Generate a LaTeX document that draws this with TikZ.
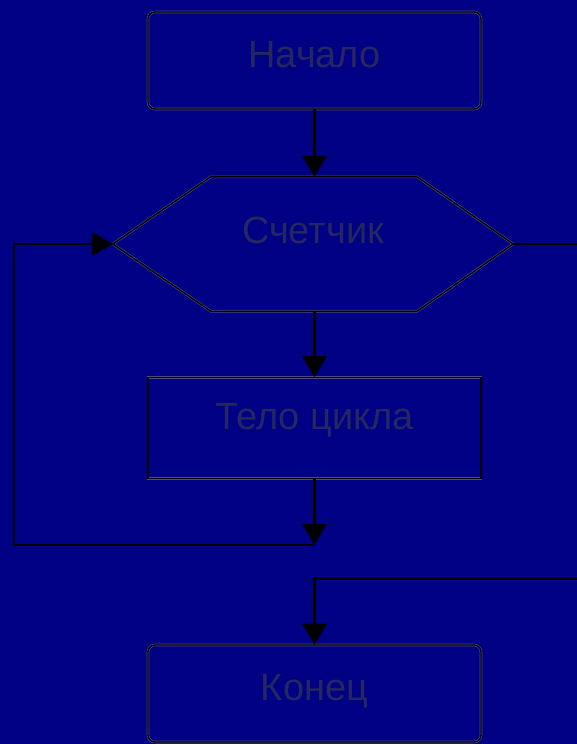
\documentclass[tikz,border=0pt]{standalone}
\usepackage{fontspec}
\setmainfont{Liberation Sans}
\usepackage{xcolor}
\usetikzlibrary{shapes,arrows.meta,positioning,calc,backgrounds,fit}
\definecolor{screen}{RGB}{0,0,132}
\definecolor{edge}{RGB}{75,75,125}
\definecolor{ink}{RGB}{38,38,98}

\begin{document}
\begin{tikzpicture}[x=1pt, y=-1pt]
  \tikzstyle{outline}=[draw=edge, line width=0.6pt, double=black, double distance=1.4pt]
  \tikzstyle{label}=[text=ink, font=\fontsize{38}{40}\selectfont, text height=28pt, text depth=14pt]
  \tikzstyle{block}=[outline, label, minimum width=333pt]
  \tikzstyle{term}=[rounded corners=7pt]
  \tikzstyle{flow}=[black, line width=3pt]
  \tikzstyle{into}=[flow, -{Triangle[length=21pt, width=24pt]}]

  % Фон
  \fill[screen] (0,0) rectangle (577,744);
  \useasboundingbox (0,0) rectangle (577,744);

  % Блоки
  \node[block, term, minimum height=97pt] (start) at (314.5,60.5) {Начало};
  \node[label, minimum width=400pt, minimum height=134pt, text depth=30pt] (count) at (313,244) {Счетчик};
  \draw[outline] (count.west) -- ($(count.north west)+(98,0)$) -- ($(count.north east)+(-96,0)$)
    -- (count.east) -- ($(count.south east)+(-96,0)$) -- ($(count.south west)+(98,0)$) -- cycle;
  \node[block, minimum height=101pt, text depth=25pt] (body) at (314.5,428) {Тело цикла};
  \node[block, term, minimum height=97pt, text depth=15pt] (stop) at (314.5,693.5) {Конец};

  \coordinate (join) at (314.5,545);
  \coordinate (loop) at (14,244);
  \coordinate (exit) at (577,244);
  \coordinate (back) at (577,578);

  % Связи
  \draw[into] (start.south) -- (start.south |- count.north);
  \draw[into] (count.south -| body.north) -- (body.north);
  \draw[into] (body.south) -- (join);
  \draw[into, line width=2pt] (join) -| (loop) -- (count.west);
  \draw[flow, line width=2pt] (count.east) -- (exit);
  \draw[into] (back) -| (stop.north);
\end{tikzpicture}
\end{document}
